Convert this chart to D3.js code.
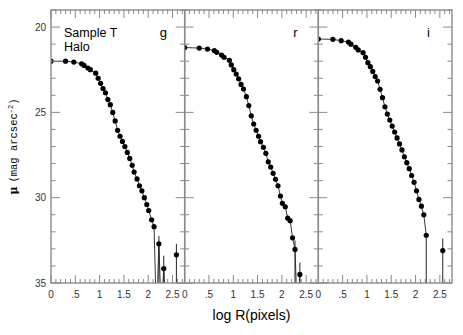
<!DOCTYPE html>
<html>
<head>
<meta charset="utf-8">
<script src="https://cdn.jsdelivr.net/npm/d3@7"></script>
<style>
  body { margin: 0; background: #fff; }
  svg { display: block; }
</style>
</head>
<body>
<div id="chart"></div>
<script>
// surface brightness profiles, one array pair per band (37 = below plot floor)
const bands = ["g", "r", "i"];

const gLogR = [0, .30, .47, .63, .68, .76, .81, .92, .97, 1.02, 1.07, 1.12, 1.17, 1.22, 1.27, 1.32, 1.37, 1.42, 1.47, 1.52, 1.57, 1.62, 1.67, 1.71, 1.77, 1.82, 1.87, 1.92, 1.97, 2.01, 2.07, 2.12, 2.17, 2.22, 2.27, 2.32, 2.37];
const gMu   = [22.0, 22.0, 22.05, 22.15, 22.25, 22.4, 22.5, 22.7, 23.0, 23.3, 23.6, 23.85, 24.25, 24.55, 25.0, 25.5, 26.05, 26.4, 26.7, 27.0, 27.35, 27.7, 28.1, 28.5, 28.9, 29.3, 29.6, 30.0, 30.4, 30.75, 31.3, 31.7, 37, 32.7, 37, 34.15, 37];

const rLogR = [0, .30, .47, .61, .66, .76, .81, .92, .96, 1.01, 1.06, 1.11, 1.16, 1.21, 1.27, 1.32, 1.37, 1.42, 1.47, 1.52, 1.56, 1.62, 1.67, 1.72, 1.77, 1.82, 1.87, 1.92, 1.97, 2.01, 2.07, 2.12, 2.17, 2.22, 2.27, 2.32, 2.37];
const rMu   = [21.2, 21.23, 21.29, 21.38, 21.48, 21.64, 21.77, 21.95, 22.22, 22.5, 22.75, 23.03, 23.36, 23.63, 24.08, 24.6, 25.2, 25.68, 26.05, 26.4, 26.72, 27.05, 27.4, 27.9, 28.2, 28.57, 28.92, 29.3, 29.9, 30.33, 30.53, 31.2, 31.35, 32.35, 33.03, 37, 34.5];

const iLogR = [0, .30, .47, .62, .67, .77, .82, .92, .97, 1.02, 1.07, 1.12, 1.17, 1.22, 1.27, 1.32, 1.37, 1.42, 1.47, 1.52, 1.57, 1.62, 1.67, 1.72, 1.77, 1.82, 1.87, 1.92, 1.97, 2.02, 2.07, 2.12, 2.17, 2.22];
const iMu   = [20.7, 20.72, 20.8, 20.88, 21.0, 21.19, 21.34, 21.5, 21.77, 22.09, 22.32, 22.6, 22.9, 23.16, 23.65, 24.14, 24.67, 25.1, 25.45, 25.8, 26.15, 26.5, 26.85, 27.2, 27.6, 27.95, 28.3, 28.7, 29.1, 29.6, 30.1, 30.5, 31.0, 32.2];

// isolated outer points not joined by the profile line
const gExtraLogR = [2.58];
const gExtraMu = [33.35];
const iExtraLogR = [2.56];
const iExtraMu = [33.1];

// error bars on the faint outer points: [logR, bright end, faint end]
const gErr = [[2.22, 32.25, 37], [2.32, 33.4, 37], [2.58, 32.7, 37]];
const rErr = [[2.27, 32.5, 37], [2.37, 33.8, 37]];
const iErr = [[2.22, 32.2, 37], [2.56, 32.4, 37]];

const xTickVals = [0, .5, 1, 1.5, 2, 2.5];
const xTickLabels = ["0", ".5", "1", "1.5", "2", "2.5"];
const yTickVals = [20, 25, 30, 35];

const panelLabels = ["g", "r", "i"];

const W = 463, H = 335;
const margin = { top: 10, right: 11, bottom: 52, left: 51 };
const plotW = W - margin.left - margin.right;
const panelW = plotW / 3;
const height = H - margin.top - margin.bottom;
const axisColor = "#8a8a8a";

const svg = d3.select("#chart").append("svg")
  .attr("width", W)
  .attr("height", H)
  .style("font-family", "'Liberation Sans', Arial, sans-serif");

const y = d3.scaleLinear().domain([19, 35]).range([0, height]);

const series = [
  { logR: gLogR, mu: gMu, err: gErr, extraR: gExtraLogR, extraMu: gExtraMu },
  { logR: rLogR, mu: rMu, err: rErr, extraR: [], extraMu: [] },
  { logR: iLogR, mu: iMu, err: iErr, extraR: iExtraLogR, extraMu: iExtraMu }
];

series.forEach((s, k) => {
  const x = d3.scaleLinear().domain([0, 2.75]).range([0, panelW]);
  const g = svg.append("g")
    .attr("transform", `translate(${margin.left + k * panelW},${margin.top})`);

  g.append("clipPath").attr("id", "clip" + k)
    .append("rect").attr("width", panelW).attr("height", height);

  const pts = s.logR.map((v, j) => ({ r: v, mu: s.mu[j] }));
  const extra = s.extraR.map((v, j) => ({ r: v, mu: s.extraMu[j] }));

  const plot = g.append("g").attr("clip-path", `url(#clip${k})`);

  const line = d3.line().x(d => x(d.r)).y(d => y(d.mu));
  plot.append("path")
    .datum(pts)
    .attr("d", line)
    .attr("fill", "none")
    .attr("stroke", "#222")
    .attr("stroke-width", 0.9);

  plot.selectAll(".err")
    .data(s.err)
    .join("line")
    .attr("x1", d => x(d[0])).attr("x2", d => x(d[0]))
    .attr("y1", d => y(d[1])).attr("y2", d => y(d[2]))
    .attr("stroke", "#222")
    .attr("stroke-width", 1);

  plot.selectAll(".pt")
    .data(pts.concat(extra).filter(d => d.mu <= 35))
    .join("circle")
    .attr("cx", d => x(d.r))
    .attr("cy", d => y(d.mu))
    .attr("r", 2.6)
    .attr("fill", "#000");

  // frame
  g.append("rect")
    .attr("width", panelW).attr("height", height)
    .attr("fill", "none")
    .attr("stroke", axisColor)
    .attr("stroke-width", 1.4);

  // x ticks, bottom and top, inward
  const xMinor = d3.range(0, 2.75, 0.1).map(v => Math.round(v * 10) / 10);
  xMinor.forEach(v => {
    const major = Math.abs(v * 2 - Math.round(v * 2)) < 1e-6;
    const len = major ? 8 : 4;
    g.append("line").attr("x1", x(v)).attr("x2", x(v))
      .attr("y1", height).attr("y2", height - len)
      .attr("stroke", axisColor).attr("stroke-width", 1);
    g.append("line").attr("x1", x(v)).attr("x2", x(v))
      .attr("y1", 0).attr("y2", len)
      .attr("stroke", axisColor).attr("stroke-width", 1);
  });

  // y ticks, left and right, inward
  d3.range(19, 36).forEach(v => {
    const len = v % 5 === 0 ? 9 : 4.5;
    g.append("line").attr("x1", 0).attr("x2", len)
      .attr("y1", y(v)).attr("y2", y(v))
      .attr("stroke", axisColor).attr("stroke-width", 1);
    g.append("line").attr("x1", panelW).attr("x2", panelW - len)
      .attr("y1", y(v)).attr("y2", y(v))
      .attr("stroke", axisColor).attr("stroke-width", 1);
  });

  g.selectAll(".xl")
    .data(xTickVals)
    .join("text")
    .attr("x", d => x(d))
    .attr("y", height + 15)
    .attr("text-anchor", "middle")
    .attr("font-size", 10)
    .attr("fill", "#333")
    .text((d, j) => xTickLabels[j]);

  if (k === 0) {
    g.selectAll(".yl")
      .data(yTickVals)
      .join("text")
      .attr("x", -5)
      .attr("y", d => y(d) + 3.5)
      .attr("text-anchor", "end")
      .attr("font-size", 10)
      .attr("fill", "#333")
      .text(d => d);

    g.append("text").attr("x", 13).attr("y", 27)
      .attr("font-size", 12.5).text("Sample T");
    g.append("text").attr("x", 13).attr("y", 41)
      .attr("font-size", 12.5).text("Halo");
  }

  g.append("text")
    .attr("x", panelW - 25)
    .attr("y", 27)
    .attr("font-size", 13)
    .text(panelLabels[k]);
});

// axis titles
svg.append("text")
  .attr("x", margin.left + plotW / 2)
  .attr("y", 320)
  .attr("text-anchor", "middle")
  .attr("font-size", 14)
  .text("log R(pixels)");

const yTitle = svg.append("text")
  .attr("transform", `translate(17,${margin.top + height / 2}) rotate(-90)`)
  .attr("text-anchor", "middle")
  .attr("font-size", 10.5);
yTitle.append("tspan").attr("font-weight", "bold").attr("font-size", 11)
  .attr("font-family", "'DejaVu Serif', serif").text("μ ");
yTitle.append("tspan").attr("font-family", "'Liberation Mono', monospace")
  .text("(mag arcsec");
yTitle.append("tspan").attr("font-family", "'Liberation Mono', monospace")
  .attr("font-size", 7).attr("dy", -4).text("-2");
yTitle.append("tspan").attr("font-family", "'Liberation Mono', monospace")
  .attr("dy", 4).text(")");
</script>
</body>
</html>
